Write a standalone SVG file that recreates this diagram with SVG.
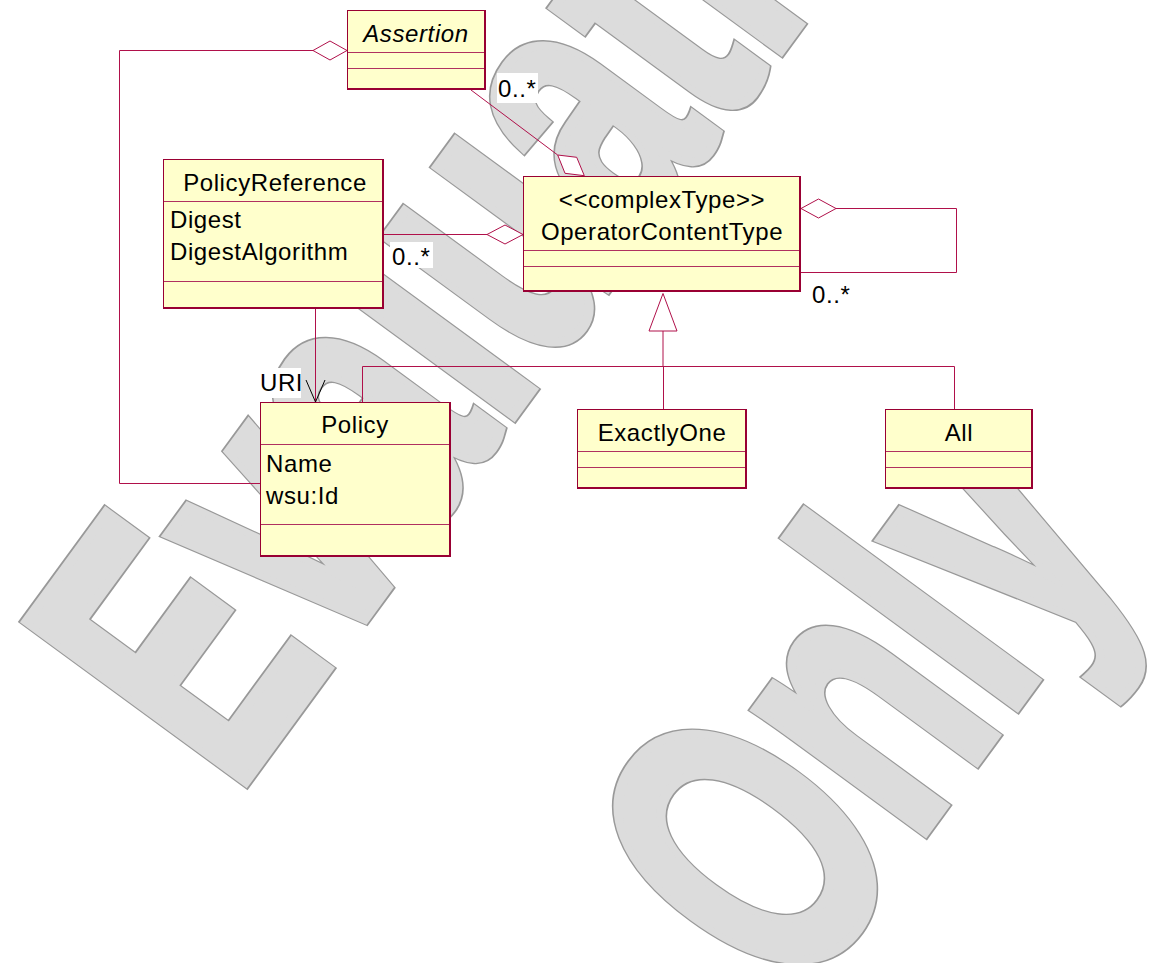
<svg xmlns="http://www.w3.org/2000/svg" width="1159" height="963" viewBox="0 0 1159 963">
  <style>
    .wmt { font-family: "Liberation Sans", Arial, sans-serif; font-weight: bold; font-size: 394px; stroke-linejoin: miter; }
    .wm-edge { fill: #999999; stroke: #999999; stroke-width: 11.5; }
    .wm-face { fill: #dcdcdc; stroke: #dcdcdc; stroke-width: 8.5; }
    .box { fill: #ffffcc; stroke: #990033; stroke-width: 1; }
    .edge { stroke: #990033; stroke-width: 2; fill: none; }
    .div { stroke: #b03060; stroke-width: 1; }
    .t { font-family: "Liberation Sans", Arial, sans-serif; font-size: 24px; letter-spacing: 0.6px; fill: #000; }
    .c { text-anchor: middle; }
    .conn { stroke: #b0104a; stroke-width: 1; fill: none; }
    .dia { fill: #ffffff; stroke: #b0104a; stroke-width: 1; }
    .bg { fill: #ffffff; }
    .arr { stroke: #000; stroke-width: 1; fill: none; }
  </style>

  <defs>
    <text id="wm1" class="wmt" vector-effect="non-scaling-stroke" transform="translate(234.6,796.4) rotate(-53.8) scale(0.646,1)">Evaluation</text>
    <text id="wm2" class="wmt" vector-effect="non-scaling-stroke" transform="translate(796.6,1006.9) rotate(-53.8) scale(0.646,1)">Only</text>
  </defs>

  <!-- watermark: heavy outlined lettering drawn as an edge layer plus a face layer -->
  <g id="watermark">
    <use href="#wm1" class="wm-edge"/>
    <use href="#wm2" class="wm-edge"/>
    <use href="#wm1" class="wm-face"/>
    <use href="#wm2" class="wm-face"/>
  </g>

  <!-- connectors -->
  <g id="connectors">
    <!-- Assertion aggregated by Policy -->
    <path class="conn" d="M313,50.5 H119.5 V483.5 H260"/>
    <path class="dia" d="M347,50.5 L330,41 L313,50.5 L330,60 Z"/>

    <!-- Assertion aggregated by OperatorContentType -->
    <path class="conn" d="M471,90 L557.7,155"/>
    <path class="dia" d="M557.7,155 L576.7,157.3 L584.3,175.7 L565,173.3 Z"/>
    <rect class="bg" x="497" y="73" width="41" height="30"/>
    <text class="t" x="498" y="96.5">0..*</text>

    <!-- PolicyReference aggregated by OperatorContentType -->
    <path class="conn" d="M383,234.5 H487"/>
    <path class="dia" d="M523,234.5 L505,225 L487,234.5 L505,244 Z"/>
    <rect class="bg" x="390" y="242" width="43" height="26"/>
    <text class="t" x="392" y="265">0..*</text>

    <!-- OperatorContentType self aggregation -->
    <path class="conn" d="M836,208.5 H956.5 V272.5 H801"/>
    <path class="dia" d="M801,208.5 L818.5,199 L836,208.5 L818.5,218 Z"/>
    <text class="t" x="812" y="303">0..*</text>

    <!-- PolicyReference to Policy (URI) -->
    <path class="conn" d="M315.5,308 V402"/>
    <path class="arr" d="M306,380 L315.5,402 L325,380"/>
    <rect class="bg" x="259" y="368" width="42" height="30"/>
    <text class="t" x="260" y="391">URI</text>

    <!-- generalization to OperatorContentType -->
    <path class="conn" d="M663,331 V366.5"/>
    <path class="conn" d="M362.5,402 V366.5 H954.5 V409"/>
    <path class="conn" d="M663.5,366.5 V409"/>
    <path class="dia" d="M663,293.5 L649,331 L677,331 Z"/>
  </g>

  <g id="Assertion">
    <rect class="box" x="347.5" y="10.5" width="137" height="78"/>
    <path class="edge" d="M347,89 H485 V10"/>
    <line class="div" x1="348" y1="52.5" x2="484" y2="52.5"/>
    <line class="div" x1="348" y1="68.5" x2="484" y2="68.5"/>
    <text class="t c" x="416" y="42" font-style="italic">Assertion</text>
  </g>

  <g id="PolicyReference">
    <rect class="box" x="163.5" y="159.5" width="219" height="148"/>
    <path class="edge" d="M163,308 H383 V159"/>
    <line class="div" x1="164" y1="201.5" x2="382" y2="201.5"/>
    <line class="div" x1="164" y1="281.5" x2="382" y2="281.5"/>
    <text class="t c" x="275" y="191">PolicyReference</text>
    <text class="t" x="170" y="228">Digest</text>
    <text class="t" x="170" y="260">DigestAlgorithm</text>
  </g>

  <g id="OperatorContentType">
    <rect class="box" x="523.5" y="176.5" width="276" height="114"/>
    <path class="edge" d="M523,291 H800 V176"/>
    <line class="div" x1="524" y1="250.5" x2="799" y2="250.5"/>
    <line class="div" x1="524" y1="266.5" x2="799" y2="266.5"/>
    <text class="t c" x="662" y="207.5">&lt;&lt;complexType&gt;&gt;</text>
    <text class="t c" x="662" y="240">OperatorContentType</text>
  </g>

  <g id="Policy">
    <rect class="box" x="260.5" y="402.5" width="189" height="153"/>
    <path class="edge" d="M260,556 H450 V402"/>
    <line class="div" x1="261" y1="444.5" x2="449" y2="444.5"/>
    <line class="div" x1="261" y1="524.5" x2="449" y2="524.5"/>
    <text class="t c" x="355" y="433">Policy</text>
    <text class="t" x="266" y="472">Name</text>
    <text class="t" x="266" y="504">wsu:Id</text>
  </g>

  <g id="ExactlyOne">
    <rect class="box" x="577.5" y="409.5" width="168" height="78"/>
    <path class="edge" d="M577,488 H746 V409"/>
    <line class="div" x1="578" y1="451.5" x2="745" y2="451.5"/>
    <line class="div" x1="578" y1="467.5" x2="745" y2="467.5"/>
    <text class="t c" x="662" y="441">ExactlyOne</text>
  </g>

  <g id="All">
    <rect class="box" x="885.5" y="409.5" width="146" height="78"/>
    <path class="edge" d="M885,488 H1032 V409"/>
    <line class="div" x1="886" y1="451.5" x2="1031" y2="451.5"/>
    <line class="div" x1="886" y1="467.5" x2="1031" y2="467.5"/>
    <text class="t c" x="959" y="441">All</text>
  </g>
</svg>
